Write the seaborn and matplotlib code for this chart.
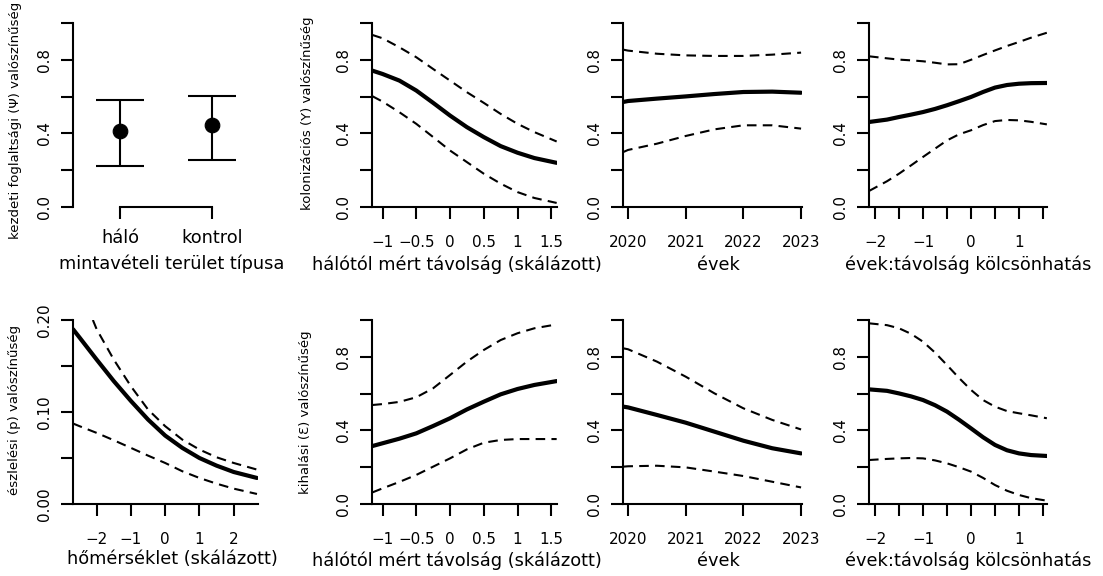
import numpy as np
import pandas as pd
import matplotlib
matplotlib.use("Agg")
import matplotlib.pyplot as plt
import seaborn as sns

# ---------------- data ----------------
# initial occupancy (Psi) by sampling site type
site_types = ["háló", "kontrol"]
site_pos = [1, 2]
psi_mean = [0.415, 0.445]
psi_low = [0.225, 0.255]
psi_up = [0.58, 0.605]

# distance from net (scaled)
dist_x = [-1.15, -1.0, -0.75, -0.5, -0.25, 0.0, 0.25, 0.5, 0.75, 1.0, 1.25, 1.58]
col_dist_mean = [0.741, 0.723, 0.687, 0.633, 0.566, 0.497, 0.434, 0.38, 0.331, 0.295, 0.266, 0.24]
col_dist_up = [0.935, 0.917, 0.868, 0.814, 0.75, 0.687, 0.624, 0.566, 0.506, 0.452, 0.407, 0.356]
col_dist_low = [0.602, 0.573, 0.515, 0.452, 0.38, 0.307, 0.244, 0.181, 0.127, 0.081, 0.049, 0.022]
ext_dist_mean = [0.315, 0.33, 0.355, 0.384, 0.424, 0.466, 0.514, 0.556, 0.596, 0.625, 0.647, 0.668]
ext_dist_up = [0.538, 0.543, 0.555, 0.58, 0.629, 0.701, 0.774, 0.837, 0.891, 0.928, 0.955, 0.976]
ext_dist_low = [0.063, 0.085, 0.12, 0.158, 0.203, 0.248, 0.297, 0.333, 0.348, 0.353, 0.353, 0.353]

# years
year_x = [2019.92, 2020.0, 2020.5, 2021.0, 2021.5, 2022.0, 2022.5, 2023.0]
col_year_mean = [0.571, 0.576, 0.589, 0.601, 0.614, 0.625, 0.627, 0.621]
col_year_up = [0.855, 0.85, 0.833, 0.824, 0.821, 0.821, 0.828, 0.839]
col_year_low = [0.299, 0.31, 0.344, 0.386, 0.422, 0.444, 0.444, 0.426]
ext_year_mean = [0.529, 0.525, 0.484, 0.442, 0.393, 0.344, 0.303, 0.275]
ext_year_up = [0.846, 0.841, 0.774, 0.692, 0.601, 0.52, 0.457, 0.405]
ext_year_low = [0.203, 0.205, 0.208, 0.199, 0.176, 0.152, 0.121, 0.09]

# years:distance interaction
int_x = [-2.125, -1.75, -1.5, -1.25, -1.0, -0.75, -0.5, -0.25, 0.0, 0.25, 0.5, 0.75, 1.0, 1.25, 1.58]
col_int_mean = [0.462, 0.475, 0.489, 0.502, 0.516, 0.533, 0.553, 0.575, 0.598, 0.625, 0.649, 0.663, 0.67, 0.673, 0.674]
col_int_up = [0.819, 0.808, 0.801, 0.797, 0.792, 0.784, 0.775, 0.776, 0.8, 0.826, 0.851, 0.875, 0.897, 0.92, 0.947]
col_int_low = [0.087, 0.14, 0.181, 0.226, 0.272, 0.317, 0.362, 0.395, 0.417, 0.445, 0.467, 0.473, 0.471, 0.463, 0.449]
ext_int_mean = [0.623, 0.615, 0.601, 0.585, 0.565, 0.537, 0.502, 0.458, 0.411, 0.363, 0.321, 0.292, 0.275, 0.266, 0.261]
ext_int_up = [0.982, 0.972, 0.955, 0.925, 0.882, 0.823, 0.755, 0.685, 0.62, 0.565, 0.529, 0.505, 0.493, 0.482, 0.466]
ext_int_low = [0.239, 0.245, 0.248, 0.25, 0.248, 0.237, 0.221, 0.2, 0.176, 0.142, 0.103, 0.072, 0.049, 0.032, 0.018]

# temperature (scaled) -> detection probability
temp_x = [-2.69, -2.5, -2.0, -1.5, -1.0, -0.5, 0.0, 0.5, 1.0, 1.5, 2.0, 2.68]
det_mean = [0.19, 0.181, 0.157, 0.1336, 0.112, 0.0918, 0.0744, 0.061, 0.05, 0.0417, 0.0348, 0.0283]
det_low = [0.0875, 0.0846, 0.0773, 0.0693, 0.061, 0.0526, 0.0446, 0.0356, 0.0283, 0.0221, 0.0167, 0.0109]
temp_up_x = [-2.11, -2.0, -1.5, -1.0, -0.5, 0.0, 0.5, 1.0, 1.5, 2.0, 2.68]
det_up = [0.20, 0.19, 0.157, 0.128, 0.1027, 0.0846, 0.07, 0.0592, 0.0508, 0.0446, 0.0374]

prob_ticks = [0.0, 0.2, 0.4, 0.6, 0.8, 1.0]
prob_labels = ["0.0", "", "0.4", "", "0.8", ""]
det_ticks = [0.0, 0.05, 0.10, 0.15, 0.20]
det_labels = ["0.00", "", "0.10", "", "0.20"]
dist_ticks = [-1, -0.5, 0, 0.5, 1, 1.5]
dist_labels = ["\u22121", "\u22120.5", "0", "0.5", "1", "1.5"]
year_ticks = [2020, 2021, 2022, 2023]
year_labels = ["2020", "2021", "2022", "2023"]
int_ticks = [-2, -1.5, -1, -0.5, 0, 0.5, 1, 1.5]
int_labels = ["\u22122", "", "\u22121", "", "0", "", "1", ""]
temp_ticks = [-2, -1, 0, 1, 2]
temp_labels = ["\u22122", "\u22121", "0", "1", "2"]

# ---------------- figure ----------------
sns.set_theme(style="ticks")
plt.rcParams["font.family"] = ["DejaVu Sans"]

W, H = 1103, 576
fig = plt.figure(figsize=(W / 100, H / 100), dpi=100)
fig.patch.set_facecolor("white")

cols = [(73, 258), (372, 557), (623, 802), (869, 1047)]
rows = [(23, 207), (320, 504)]

TICK_FS = 10.9
LAB_FS = 12.8
YLAB_FS = 9.5
DASH = (0, (4.6, 3.0))


def add_ax(c, r):
    l, rr = cols[c]
    t, b = rows[r]
    ax = fig.add_axes([l / W, 1 - b / H, (rr - l) / W, (b - t) / H])
    ax.set_facecolor("white")
    for s in ["top", "right"]:
        ax.spines[s].set_visible(False)
    for s in ["left", "bottom"]:
        ax.spines[s].set_linewidth(1.5)
        ax.spines[s].set_color("black")
    ax.tick_params(axis="both", length=8.6, width=1.5, colors="black",
                   labelsize=TICK_FS, labelcolor="black")
    ax.tick_params(axis="x", pad=11.5)
    ax.tick_params(axis="y", pad=6.8)
    ax.grid(False)
    return ax


def set_ticks(ax, xlim, ylim, xt, xl, yt, yl):
    ax.set_xlim(*xlim)
    ax.set_ylim(*ylim)
    ax.set_xticks(xt)
    ax.set_xticklabels(xl)
    ax.set_yticks(yt)
    ax.set_yticklabels(yl, rotation=90, va="center")
    ax.set_xlabel("")
    ax.set_ylabel("")


def curves(ax, x, mean, low, up, xu=None):
    sns.lineplot(x=x, y=mean, ax=ax, color="black", linewidth=3.0,
                 errorbar=None, sort=False)
    sns.lineplot(x=x, y=low, ax=ax, color="black", linewidth=1.5,
                 linestyle=DASH, errorbar=None, sort=False)
    sns.lineplot(x=(xu if xu is not None else x), y=up, ax=ax, color="black",
                 linewidth=1.5, linestyle=DASH, errorbar=None, sort=False)


def xlabel(cx, base, text):
    fig.text(cx / W, 1 - base / H, text, ha="center", va="baseline",
             fontsize=LAB_FS, color="black")


def ylabel(x, y, text):
    fig.text(x / W, 1 - y / H, text, ha="center", va="center", rotation=90,
             fontsize=YLAB_FS, color="black")


# panel 1: initial occupancy
ax = add_ax(0, 0)
ax.errorbar(site_pos, psi_mean,
            yerr=[np.array(psi_mean) - np.array(psi_low), np.array(psi_up) - np.array(psi_mean)],
            fmt="none", ecolor="black", elinewidth=1.5, capsize=17, capthick=1.5)
sns.scatterplot(x=site_pos, y=psi_mean, ax=ax, color="black", s=110,
                edgecolor="black", zorder=3, legend=False)
set_ticks(ax, (0.49, 2.5), (0, 1), site_pos, site_types, prob_ticks, prob_labels)
ax.spines["bottom"].set_bounds(1, 2)
ax.tick_params(axis="x", labelsize=LAB_FS, pad=7.2)
ylabel(16, 120, "kezdeti foglaltsági (\u03a8) valószínűség")
xlabel(172, 269, "mintavételi terület típusa")

# panel 2: colonization vs distance
ax = add_ax(1, 0)
curves(ax, dist_x, col_dist_mean, col_dist_low, col_dist_up)
set_ticks(ax, (-1.156, 1.585), (0, 1), dist_ticks, dist_labels, prob_ticks, prob_labels)
ylabel(308, 113, "kolonizációs (Y) valószínűség")
xlabel(457, 270, "hálótól mért távolság (skálázott)")

# panel 3: colonization vs years
ax = add_ax(2, 0)
curves(ax, year_x, col_year_mean, col_year_low, col_year_up)
set_ticks(ax, (2019.913, 2023.016), (0, 1), year_ticks, year_labels, prob_ticks, prob_labels)
xlabel(718, 270, "évek")

# panel 4: colonization interaction
ax = add_ax(3, 0)
curves(ax, int_x, col_int_mean, col_int_low, col_int_up)
set_ticks(ax, (-2.125, 1.583), (0, 1), int_ticks, int_labels, prob_ticks, prob_labels)
xlabel(968, 270, "évek:távolság kölcsönhatás")

# panel 5: detection vs temperature
ax = add_ax(0, 1)
curves(ax, temp_x, det_mean, det_low, det_up, xu=temp_up_x)
set_ticks(ax, (-2.69, 2.71), (0, 0.2), temp_ticks, temp_labels, det_ticks, det_labels)
ylabel(15, 410, "észlelési (p) valószínűség")
xlabel(172, 564, "hőmérséklet (skálázott)")

# panel 6: extinction vs distance
ax = add_ax(1, 1)
curves(ax, dist_x, ext_dist_mean, ext_dist_low, ext_dist_up)
set_ticks(ax, (-1.156, 1.585), (0, 1), dist_ticks, dist_labels, prob_ticks, prob_labels)
ylabel(306, 412, "kihalási (\u0190) valószínűség")
xlabel(457, 566, "hálótól mért távolság (skálázott)")

# panel 7: extinction vs years
ax = add_ax(2, 1)
curves(ax, year_x, ext_year_mean, ext_year_low, ext_year_up)
set_ticks(ax, (2019.913, 2023.016), (0, 1), year_ticks, year_labels, prob_ticks, prob_labels)
xlabel(718, 566, "évek")

# panel 8: extinction interaction
ax = add_ax(3, 1)
curves(ax, int_x, ext_int_mean, ext_int_low, ext_int_up)
set_ticks(ax, (-2.125, 1.583), (0, 1), int_ticks, int_labels, prob_ticks, prob_labels)
xlabel(968, 566, "évek:távolság kölcsönhatás")

fig.savefig("out.png", dpi=100, facecolor="white")
